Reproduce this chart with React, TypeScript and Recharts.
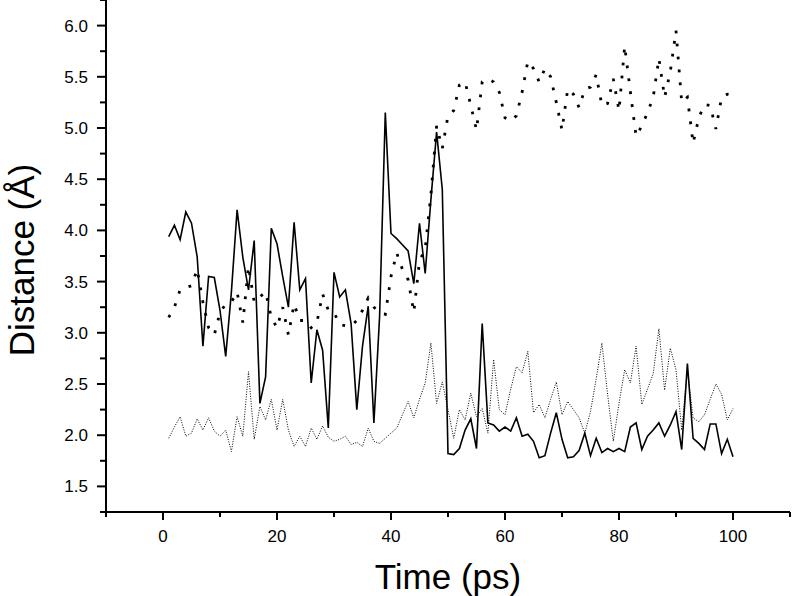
import React from 'react';
import { LineChart, Line, XAxis, YAxis } from 'recharts';

// Solid line: distance 1 (Å), one sample per ps
const solidDist = [
  3.94, 4.05, 3.91, 4.18, 4.07, 3.74, 2.87, 3.55, 3.54, 3.22,
  2.77, 3.4, 4.2, 3.74, 3.42, 3.9, 2.31, 2.57, 4.02, 3.87,
  3.55, 3.25, 4.08, 3.42, 3.53, 2.51, 3.03, 2.83, 2.07, 3.59,
  3.35, 3.42, 3.09, 2.25, 2.87, 3.26, 2.12, 3.16, 5.15, 3.97,
  3.92, 3.86, 3.8, 3.48, 4.07, 3.58, 4.3, 4.96, 4.4, 1.82,
  1.81, 1.87, 2.05, 2.16, 1.87, 3.09, 2.12, 2.1, 2.04, 2.08,
  2.04, 2.17, 1.99, 2.01, 1.94, 1.78, 1.8, 2.02, 2.22, 1.96,
  1.78, 1.79, 1.85, 2.02, 1.8, 1.97, 1.83, 1.87, 1.84, 1.87,
  1.84, 2.08, 2.12, 1.86, 1.99, 2.05, 2.12, 1.99, 2.1, 2.23,
  1.86, 2.7, 1.97, 1.92, 1.86, 2.11, 2.11, 1.82, 1.96, 1.79,
];

// Thin dotted line
const thinDotDist = [
  1.97, 2.08, 2.18, 1.99, 2.02, 2.16, 2.05, 2.17, 2.04, 1.99,
  2.05, 1.84, 2.18, 1.99, 2.62, 1.96, 2.28, 2.15, 2.35, 2.05,
  2.35, 2.05, 1.89, 1.99, 1.89, 2.07, 1.96, 2.09, 1.98, 1.94,
  1.96, 1.99, 1.91, 1.93, 1.89, 2.07, 1.94, 1.92, 1.97, 2.02,
  2.07, 2.2, 2.33, 2.17, 2.35, 2.51, 2.9, 2.31, 2.52, 2.25,
  1.97, 2.25, 2.15, 2.41, 2.18, 2.26, 2.02, 2.74, 2.25, 2.2,
  2.45, 2.67, 2.61, 2.82, 2.22, 2.3, 2.17, 2.35, 2.52, 2.2,
  2.33, 2.25, 2.17, 2.02, 2.23, 2.55, 2.9, 2.4, 1.94, 2.31,
  2.64, 2.51, 2.87, 2.3, 2.45, 2.6, 3.04, 2.44, 2.85, 2.64,
  2.05, 2.64, 2.17, 2.13, 2.2, 2.35, 2.5, 2.4, 2.15, 2.26,
];

// Heavy dotted line
const heavyDotDist = [
  3.15, 3.25, 3.42, 3.44, 3.46, 3.62, 3.3, 3.05, 2.98, 3.2,
  3.28, 3.3, 3.4, 3.1, 3.65, 3.3, 3.35, 3.4, 3.15, 3.05,
  3.25, 2.98, 3.28, 3.12, 3.12, 3.05, 3.1, 3.38, 3.22, 3.2,
  3.08, 3.07, 3.07, 3.12, 3.22, 3.34, 3.25, 3.2, 3.18, 3.55,
  3.78, 3.62, 3.52, 3.2, 3.7, 3.82, 4.35, 5.02, 4.8, 5.12,
  5.17, 5.42, 5.45, 5.22, 4.98, 5.45, 5.48, 5.45, 5.35, 5.1,
  5.07, 5.12, 5.35, 5.65, 5.58, 5.45, 5.58, 5.5, 5.25, 4.98,
  5.38, 5.33, 5.2, 5.38, 5.4, 5.52, 5.22, 5.24, 5.48, 5.17,
  5.8, 5.35, 4.92, 5.02, 5.15, 5.3, 5.68, 5.3, 5.55, 5.95,
  5.25, 5.3, 4.85, 5.1, 5.23, 5.22, 4.99, 5.3, 5.33, 5.32,
];

const xTicks = [-10, 0, 10, 20, 30, 40, 50, 60, 70, 80, 90, 100, 110];
const yTicks = [
  1.25, 1.5, 1.75, 2.0, 2.25, 2.5, 2.75, 3.0, 3.25, 3.5, 3.75,
  4.0, 4.25, 4.5, 4.75, 5.0, 5.25, 5.5, 5.75, 6.0, 6.25,
];

const data = solidDist.map((d, i) => ({
  time: i + 1,
  solid: d,
  thin: thinDotDist[i],
  heavy: heavyDotDist[i],
}));

const font = '"Liberation Sans", Arial, sans-serif';

const XTick = ({ x, y, payload }: any) => {
  const v = payload.value;
  const major = v % 20 === 0;
  return (
    <g>
      <line x1={x} x2={x} y1={y} y2={y + (major ? 8 : 5)} stroke="#000" strokeWidth={2} />
      {major && (
        <text x={x} y={y + 30} textAnchor="middle" fontSize={17} fontFamily={font} fill="#000">
          {v}
        </text>
      )}
    </g>
  );
};

const YTick = ({ x, y, payload }: any) => {
  const v = payload.value;
  const major = Math.abs(v * 2 - Math.round(v * 2)) < 1e-6;
  const showLabel = major && v >= 1.5 && v <= 6.0;
  return (
    <g>
      <line x1={x - (major ? 9 : 6)} x2={x} y1={y} y2={y} stroke="#000" strokeWidth={2} />
      {showLabel && (
        <text x={x - 18} y={y + 6} textAnchor="end" fontSize={17} fontFamily={font} fill="#000">
          {v.toFixed(1)}
        </text>
      )}
    </g>
  );
};

export default function App() {
  return (
    <div style={{ position: 'absolute', left: 0, top: 0, width: 792, height: 596, background: '#fff' }}>
      <LineChart
        width={792}
        height={596}
        data={data}
        margin={{ top: 0, right: 2, bottom: 0, left: 0 }}
      >
        <XAxis
          dataKey="time"
          type="number"
          domain={[-10, 110]}
          ticks={xTicks}
          interval={0}
          height={84}
          tickSize={0}
          tickMargin={0}
          tickLine={false}
          tick={<XTick />}
          axisLine={{ stroke: '#000', strokeWidth: 2 }}
          label={{
            value: 'Time (ps)',
            position: 'insideBottom',
            offset: 7,
            style: { fontSize: 35, fontFamily: font, fill: '#000' },
          }}
        />
        <YAxis
          type="number"
          domain={[1.25, 6.25]}
          ticks={yTicks}
          interval={0}
          width={106}
          tickSize={0}
          tickMargin={0}
          tickLine={false}
          tick={<YTick />}
          axisLine={{ stroke: '#000', strokeWidth: 2 }}
          label={{
            value: 'Distance (Å)',
            angle: -90,
            position: 'insideLeft',
            offset: 0,
            dx: 22,
            dy: 4,
            style: { fontSize: 35, fontFamily: font, fill: '#000', textAnchor: 'middle' },
          }}
        />
        <Line
          type="linear"
          dataKey="thin"
          stroke="#000"
          strokeWidth={1}
          strokeDasharray="1 1.5"
          dot={false}
          isAnimationActive={false}
        />
        <Line
          type="linear"
          dataKey="heavy"
          stroke="#000"
          strokeWidth={2.8}
          strokeDasharray="2.8 10.2"
          dot={false}
          isAnimationActive={false}
        />
        <Line
          type="linear"
          dataKey="solid"
          stroke="#000"
          strokeWidth={1.6}
          dot={false}
          isAnimationActive={false}
        />
      </LineChart>
    </div>
  );
}
